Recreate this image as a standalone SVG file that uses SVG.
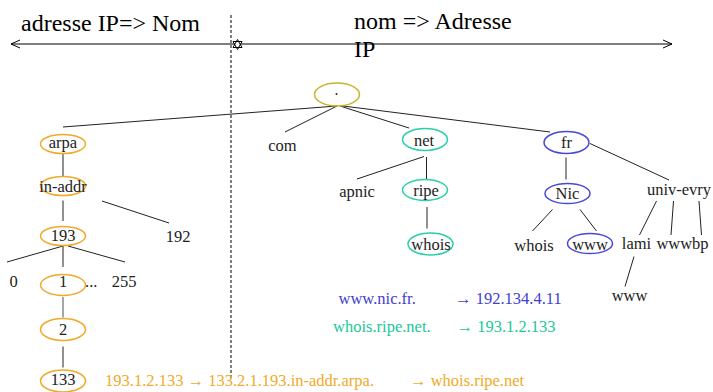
<svg xmlns="http://www.w3.org/2000/svg" width="713" height="392" viewBox="0 0 713 392">
<defs>
<marker id="open" viewBox="0 0 10 10" refX="9" refY="5" markerWidth="10" markerHeight="10" markerUnits="userSpaceOnUse" orient="auto">
<path d="M0,1 L9,5 L0,9" fill="none" stroke="#000" stroke-width="1"/>
</marker>
</defs>
<style>
text{font-size:16.5px;fill:#222}
.big{font-size:24px;fill:#000}
.c{text-anchor:middle}
.ln{stroke:#222;stroke-width:1;fill:none}
.e{fill:none;stroke-width:1.5}
.yel{stroke:#c8b428}
.org{stroke:#f0aa28}
.teal{stroke:#28d0a8}
.blue{stroke:#4848d8}
.torg{fill:#f0aa28}
.tteal{fill:#20c898}
.tblue{fill:#4040d0}
</style>
<rect width="713" height="392" fill="#fff"/>
<g font-family="'Liberation Serif', serif">
<g id="header">
<line x1="231" y1="15" x2="231" y2="378" stroke="#000" stroke-width="1" stroke-dasharray="3,2"/>
<line x1="237" y1="44" x2="11" y2="44" stroke="#000" stroke-width="1.2" marker-end="url(#open)"/>
<line x1="237" y1="44" x2="672" y2="44" stroke="#000" stroke-width="1.2" marker-end="url(#open)"/>
<path d="M237.5,39.5 L242,47.5 L233,47.5 Z M237.5,49.5 L233,41.5 L242,41.5 Z" fill="#fff" stroke="#000" stroke-width="1"/>
<text class="big" x="21" y="31">adresse IP=&gt; Nom</text>
<text class="big" x="354" y="29">nom =&gt; Adresse</text>
<text class="big" x="354" y="57">IP</text>
</g>
<g id="connectors">
<line class="ln" x1="337" y1="106" x2="63" y2="127"/>
<line class="ln" x1="337" y1="106" x2="285" y2="132"/>
<line class="ln" x1="340" y1="106" x2="409" y2="128"/>
<line class="ln" x1="343" y1="106" x2="550" y2="132"/>
<line class="ln" x1="63" y1="153.5" x2="63" y2="177"/>
<line class="ln" x1="63" y1="200.5" x2="63" y2="221"/>
<line class="ln" x1="102" y1="201" x2="169" y2="223"/>
<line class="ln" x1="63" y1="246" x2="7" y2="262"/>
<line class="ln" x1="63" y1="246" x2="63" y2="267"/>
<line class="ln" x1="68" y1="246" x2="125" y2="262"/>
<line x1="63" y1="297" x2="63" y2="317.5" stroke="#888" stroke-width="1.5"/>
<line class="ln" x1="63" y1="346.5" x2="63" y2="367.5"/>
<line class="ln" x1="424" y1="156.5" x2="357" y2="179"/>
<line class="ln" x1="426.5" y1="157" x2="426.5" y2="179.5"/>
<line class="ln" x1="427" y1="207" x2="427" y2="228.5"/>
<line class="ln" x1="566" y1="157.5" x2="566" y2="179.5"/>
<line class="ln" x1="590" y1="143.5" x2="669" y2="180"/>
<line class="ln" x1="552.5" y1="209.5" x2="532.5" y2="231"/>
<line class="ln" x1="580" y1="209.5" x2="596.5" y2="231"/>
<line class="ln" x1="656.5" y1="201" x2="639.5" y2="235"/>
<line class="ln" x1="673.5" y1="201" x2="671" y2="235"/>
<line class="ln" x1="699" y1="201" x2="701.5" y2="235"/>
<line class="ln" x1="634" y1="256.5" x2="625" y2="286.5"/>
</g>
<g id="root"><ellipse class="e yel" cx="337" cy="94.5" rx="22.5" ry="11.5"/><circle cx="336.5" cy="94" r="1" fill="#222"/></g>
<g id="arpa"><ellipse class="e org" cx="63" cy="144" rx="22.5" ry="9.5"/><text class="c" x="63" y="148">arpa</text></g>
<g id="in-addr"><ellipse class="e org" cx="63" cy="186" rx="22.5" ry="9.5"/><text class="c" x="63" y="191.5">in-addr</text></g>
<g id="n192"><text class="c" x="178" y="241.5">192</text></g>
<g id="n193"><ellipse class="e org" cx="63" cy="236" rx="22.5" ry="9.5"/><text class="c" x="63" y="240.5">193</text></g>
<g id="n0"><text class="c" x="13.5" y="286.5">0</text></g>
<g id="n1"><ellipse class="e org" cx="63" cy="285" rx="22.5" ry="10.5"/><text class="c" x="63" y="286.5">1</text></g>
<g id="dots"><text x="85" y="286.5">...</text></g>
<g id="n255"><text class="c" x="124" y="286.5">255</text></g>
<g id="n2"><ellipse class="e org" cx="63" cy="329.5" rx="22.5" ry="11"/><text class="c" x="63" y="334.5">2</text></g>
<g id="n133"><ellipse class="e org" cx="63" cy="381" rx="22.5" ry="11"/><text class="c" x="63" y="385">133</text></g>
<g id="com"><text class="c" x="282.5" y="150.5">com</text></g>
<g id="net"><ellipse class="e teal" cx="425" cy="139.5" rx="22.5" ry="11"/><text class="c" x="424" y="146">net</text></g>
<g id="apnic"><text class="c" x="357" y="197">apnic</text></g>
<g id="ripe"><ellipse class="e teal" cx="425" cy="190" rx="22.5" ry="10.5"/><text class="c" x="426" y="196">ripe</text></g>
<g id="whois-ripe"><ellipse class="e teal" cx="430.5" cy="244" rx="22.5" ry="11"/><text class="c" x="431" y="250">whois</text></g>
<g id="fr"><ellipse class="e blue" cx="566.5" cy="142.5" rx="22.5" ry="11"/><text class="c" x="566.5" y="147.5">fr</text></g>
<g id="nic"><ellipse class="e blue" cx="567.5" cy="193.5" rx="22.5" ry="10"/><text class="c" x="567.5" y="198.5">Nic</text></g>
<g id="univ-evry"><text class="c" x="679" y="195">univ-evry</text></g>
<g id="whois-nic"><text class="c" x="534" y="250.5">whois</text></g>
<g id="www-nic"><ellipse class="e blue" cx="590" cy="243.5" rx="22.5" ry="10"/><text class="c" x="590" y="250">www</text></g>
<g id="lami"><text class="c" x="636.5" y="248.5">lami</text></g>
<g id="wwwbp"><text class="c" x="682.5" y="248.5">wwwbp</text></g>
<g id="www-lami"><text class="c" x="629.5" y="301">www</text></g>
<g id="notes">
<text class="tblue" x="338.5" y="304">www.nic.fr.</text>
<text class="tblue" x="455" y="304">→ 192.134.4.11</text>
<text class="tteal" x="333" y="331.5">whois.ripe.net.</text>
<text class="tteal" x="456.5" y="331.5">→  193.1.2.133</text>
<text class="torg" x="105" y="386">193.1.2.133 → 133.2.1.193.in-addr.arpa.</text>
<text class="torg" x="410" y="386">→ whois.ripe.net</text>
</g>
</g>
</svg>
